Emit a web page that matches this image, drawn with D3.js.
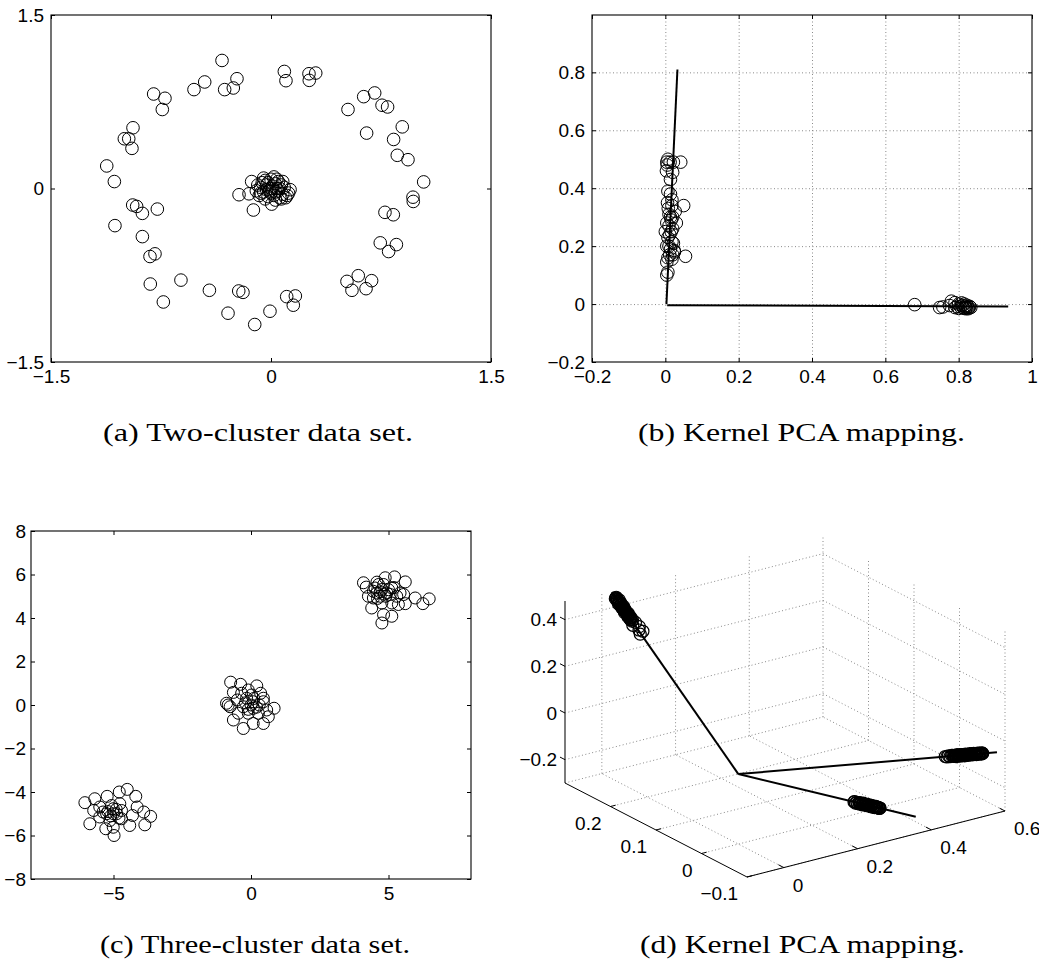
<!DOCTYPE html>
<html>
<head>
<meta charset="utf-8">
<script src="https://cdnjs.cloudflare.com/ajax/libs/d3/7.8.5/d3.min.js"></script>
<style>
  body { margin: 0; background: #fff; }
  .caption { font-family: "Liberation Serif", "DejaVu Serif", serif; font-size: 25px; }
</style>
</head>
<body>
<div id="figure"></div>
<script>
// ---- (a) two-cluster data set ----
var ringPoints = [[-0.334,1.107],[0.091,1.012],[0.102,0.932],[0.259,0.992],[0.305,0.998],[0.261,0.935],[-0.232,0.949],[-0.257,0.869],
  [-0.316,0.855],[-0.452,0.921],[-0.525,0.855],[-0.800,0.817],[-0.723,0.780],[-0.741,0.683],[0.525,0.683],[0.632,0.794],[0.707,0.826],
  [0.757,0.720],[0.795,0.705],[0.895,0.533],[0.652,0.479],[0.836,0.424],[-0.941,0.525],[-1.000,0.430],[-0.970,0.430],[-0.948,0.347],
  [-1.120,0.195],[-1.068,0.060],[0.861,0.287],[0.934,0.249],[1.041,0.057],[0.968,-0.075],[0.970,-0.112],[-0.943,-0.143],[-0.916,-0.155],
  [-0.877,-0.215],[-0.775,-0.178],[0.777,-0.206],[0.834,-0.227],[-1.064,-0.321],[-0.877,-0.416],[-0.791,-0.565],[-0.825,-0.588],
  [0.745,-0.470],[0.855,-0.485],[0.802,-0.545],[-0.614,-0.792],[-0.823,-0.826],[-0.420,-0.880],[-0.220,-0.886],[-0.191,-0.898],
  [0.518,-0.803],[0.595,-0.754],[0.686,-0.797],[0.552,-0.880],[0.648,-0.866],[-0.734,-0.981],[0.107,-0.935],[0.166,-0.929],
  [0.152,-1.009],[-0.293,-1.078],[-0.007,-1.061],[-0.111,-1.176]];
var corePoints = [[-0.132,0.06],[-0.218,-0.054],[-0.15,-0.046],[-0.12,-0.186],[0.13,-0.01],[0.005,-0.135],
  [0.0,0.0],[0.03,0.04],[-0.03,0.03],[0.05,-0.02],[-0.05,-0.03],[0.02,-0.06],[-0.02,-0.07],[0.07,0.03],[-0.07,0.01],[0.0,0.08],
  [0.04,0.08],[-0.04,0.07],[0.08,-0.05],[-0.08,-0.06],[0.06,-0.08],[0.01,0.02],[-0.01,-0.02],[0.03,-0.03],[-0.03,-0.01],[0.09,0.01],
  [0.1,-0.08],[-0.06,0.05],[0.05,0.06],[0.02,0.1],[-0.1,-0.02],[0.07,-0.09],[-0.04,-0.09],[0.11,-0.06],[0.04,0.0],[-0.02,0.05],
  [0.0,-0.04],[0.06,0.0],[-0.07,-0.04],[0.03,-0.1],[0.08,0.06],[-0.09,0.03],[0.12,-0.04],[-0.05,0.09]];
var ticksA = [-1.5, 0, 1.5];

// ---- (b) kernel PCA mapping of (a) ----
var kpcaRing = [[0.004,0.49],[0.007,0.50],[0.013,0.49],[0.022,0.49],[0.042,0.49],[0.005,0.48],[0.003,0.46],[0.02,0.455],[0.014,0.43],
  [0.007,0.39],[0.014,0.38],[0.018,0.36],[0.006,0.35],[0.018,0.34],[0.05,0.34],[0.027,0.32],[0.014,0.30],[0.004,0.28],[0.01,0.27],
  [0.02,0.26],[0.0,0.25],[0.007,0.23],[0.018,0.215],[0.004,0.2],[0.014,0.19],[0.025,0.18],[0.007,0.16],[0.018,0.155],[0.055,0.165],
  [0.004,0.145],[0.007,0.11],[0.004,0.10],[0.01,0.31],[0.016,0.29],[0.012,0.24],[0.02,0.30],[0.01,0.2],[0.022,0.21],[0.012,0.17],
  [0.02,0.17],[0.024,0.185],[0.016,0.25],[0.03,0.28],[0.008,0.33]];
var kpcaCore = [[0.68,-0.002],[0.748,-0.012],[0.757,-0.01],[0.775,-0.005],[0.78,0.01],[0.79,0.005],[0.795,-0.008],[0.80,0.0],
  [0.805,-0.01],[0.81,-0.005],[0.812,-0.012],[0.815,0.0],[0.818,-0.008],[0.82,-0.012],[0.822,-0.004],[0.825,-0.01],[0.828,-0.013],
  [0.83,-0.008],[0.80,-0.015],[0.79,-0.012],[0.808,0.004],[0.815,-0.015],[0.82,-0.016],[0.826,-0.016],[0.833,-0.012]];
var kpcaAxis1 = [[0.003,0.0],[0.033,0.81]];
var kpcaAxis2 = [[0.005,-0.004],[0.935,-0.008]];
var ticksBX = [-0.2, 0, 0.2, 0.4, 0.6, 0.8, 1];
var ticksBY = [-0.2, 0, 0.2, 0.4, 0.6, 0.8];

// ---- (c) three-cluster data set ----
var clusterLow = [[-6.04,-4.49],[-5.68,-4.31],[-5.23,-4.2],[-4.79,-4.0],[-4.50,-3.88],[-4.19,-4.2],[-4.14,-4.69],[-3.90,-4.92],
  [-3.65,-5.12],[-3.86,-5.51],[-4.41,-5.54],[-4.71,-5.23],[-4.98,-6.0],[-5.28,-5.69],[-5.86,-5.46],[-5.72,-4.85],[-5.50,-4.69],
  [-5.25,-5.0],[-5.01,-4.77],[-4.77,-4.54],[-4.89,-5.0],[-5.13,-5.31],[-5.50,-5.15],[-4.31,-5.08],[-5.01,-5.62],[-5.38,-4.92],
  [-5.07,-4.62],[-4.71,-4.85],[-5.0,-5.0],[-4.9,-4.8],[-5.1,-5.1],[-5.2,-4.9],[-4.8,-5.2]];
var clusterMid = [[-0.74,1.05],[-0.38,0.95],[0.21,0.88],[-0.64,0.58],[-0.10,0.69],[0.35,0.54],[-0.89,0.08],[-0.76,-0.08],[-0.50,0.23],
  [-0.16,0.31],[0.08,0.15],[0.45,0.15],[0.84,-0.15],[-0.64,-0.69],[-0.28,-1.08],[0.08,-0.85],[0.45,-0.85],[0.63,-0.54],[-0.46,-0.38],
  [-0.10,-0.38],[0.27,-0.38],[0.57,-0.23],[-0.28,-0.08],[0.08,-0.15],[-0.34,0.54],[0.02,0.46],[-0.83,0.0],[0.45,0.31],[0.0,0.0],
  [0.2,-0.1],[-0.2,0.1],[0.1,0.3],[-0.1,-0.2],[0.3,0.0]];
var clusterHigh = [[4.09,5.62],[4.19,5.42],[4.58,5.65],[4.88,5.85],[5.22,5.89],[5.61,5.66],[4.51,5.38],[4.76,5.31],[5.12,5.38],
  [4.27,5.0],[4.45,4.92],[4.70,5.0],[4.94,5.15],[5.42,5.15],[5.55,5.08],[4.39,4.46],[4.76,4.69],[5.12,4.69],[5.36,4.62],[5.61,4.66],
  [4.82,4.15],[5.12,4.08],[4.76,3.77],[5.97,4.92],[6.25,4.66],[6.48,4.88],[4.45,5.23],[4.64,5.54],[5.06,5.08],[5.30,5.0],[4.58,5.15],
  [4.82,5.54],[4.7,5.2],[4.9,5.0],[5.0,5.3],[4.6,4.9],[5.2,5.4],[4.85,5.1]];
var ticksCX = [-5, 0, 5];
var ticksCY = [-8, -6, -4, -2, 0, 2, 4, 6, 8];

// ---- (d) kernel PCA mapping of (c), 3-D ----
var pcaOrigin = [0, 0, 0];
var pcaAxisEnds = [[0.0, 0.278, 0.50], [0.456, -0.199, 0.110], [-0.010, -0.398, 0.222]];
var pcaCluster1 = [[0.002,0.270,0.485],[-0.003,0.268,0.483],[0.001,0.267,0.480],[0.004,0.265,0.478],[-0.002,0.264,0.475],
  [0.000,0.263,0.473],[0.003,0.261,0.470],[-0.004,0.260,0.468],[0.002,0.259,0.465],[-0.001,0.257,0.463],[0.004,0.256,0.460],
  [-0.003,0.254,0.458],[0.001,0.253,0.455],[0.003,0.252,0.453],[-0.002,0.250,0.450],[0.002,0.249,0.448],[-0.004,0.247,0.445],
  [0.001,0.246,0.443],[0.004,0.245,0.440],[-0.001,0.243,0.438],[0.002,0.242,0.435],[-0.003,0.240,0.433],[0.003,0.239,0.430],
  [0.000,0.238,0.428],[-0.002,0.236,0.425],[0.003,0.235,0.423],[0.000,0.234,0.420],[0.006,0.231,0.415],[-0.005,0.228,0.410],
  [0.008,0.224,0.403],[0.002,0.220,0.395],[0.009,0.217,0.390],[-0.002,0.214,0.385],
  [0.000,0.269,0.484],[0.001,0.268,0.481],[-0.001,0.266,0.479],[0.000,0.265,0.476],[0.001,0.263,0.474],[-0.001,0.262,0.471],
  [0.000,0.261,0.469],[0.001,0.259,0.466],[-0.001,0.258,0.464],[0.000,0.256,0.461],[0.001,0.255,0.459],[-0.001,0.254,0.456],
  [0.000,0.252,0.454],[0.001,0.251,0.451],[-0.001,0.250,0.449],[0.000,0.248,0.446],[0.001,0.247,0.444],[-0.001,0.245,0.441],
  [0.000,0.244,0.439],[0.001,0.243,0.436],[-0.001,0.241,0.434],[0.000,0.240,0.431],[0.001,0.238,0.429],[-0.001,0.237,0.426],
  [0.000,0.236,0.424]];
var pcaCluster2 = [[0.378,-0.165,0.094],[0.380,-0.166,0.089],[0.382,-0.167,0.093],[0.384,-0.168,0.089],[0.386,-0.168,0.097],
  [0.388,-0.169,0.093],[0.389,-0.170,0.096],[0.391,-0.171,0.091],[0.393,-0.172,0.098],[0.395,-0.172,0.093],[0.397,-0.173,0.097],
  [0.399,-0.174,0.092],[0.400,-0.175,0.100],[0.402,-0.176,0.095],[0.404,-0.176,0.099],[0.406,-0.177,0.095],[0.408,-0.178,0.102],
  [0.409,-0.179,0.098],[0.411,-0.179,0.101],[0.413,-0.180,0.097],[0.415,-0.181,0.103],[0.417,-0.182,0.099],[0.419,-0.183,0.102],
  [0.420,-0.183,0.098],[0.422,-0.184,0.105],[0.424,-0.185,0.101],[0.426,-0.186,0.105],[0.428,-0.187,0.101],[0.430,-0.187,0.105],
  [0.431,-0.188,0.104],[0.365,-0.159,0.088],[0.368,-0.160,0.086],[0.370,-0.162,0.092],[0.373,-0.163,0.088],[0.376,-0.164,0.093],
  [0.379,-0.166,0.092],[0.381,-0.166,0.092],[0.383,-0.167,0.092],[0.385,-0.168,0.093],[0.387,-0.169,0.093],[0.389,-0.170,0.094],
  [0.390,-0.170,0.094],[0.392,-0.171,0.095],[0.394,-0.172,0.095],[0.396,-0.173,0.095],[0.398,-0.174,0.096],[0.399,-0.174,0.096],
  [0.401,-0.175,0.097],[0.403,-0.176,0.097],[0.405,-0.177,0.098],[0.407,-0.178,0.098],[0.409,-0.178,0.099],[0.410,-0.179,0.099],
  [0.412,-0.180,0.099],[0.414,-0.181,0.100],[0.416,-0.181,0.100],[0.418,-0.182,0.101],[0.420,-0.183,0.101],[0.421,-0.184,0.102],
  [0.423,-0.185,0.102],[0.425,-0.185,0.103],[0.427,-0.186,0.103],[0.429,-0.187,0.103],[0.430,-0.188,0.104]];
var pcaCluster3 = [[-0.007,-0.271,0.154],[-0.007,-0.273,0.149],[-0.007,-0.275,0.155],[-0.007,-0.278,0.151],[-0.007,-0.280,0.160],
  [-0.007,-0.283,0.157],[-0.007,-0.285,0.161],[-0.007,-0.287,0.157],[-0.007,-0.290,0.165],[-0.007,-0.292,0.161],[-0.007,-0.295,0.165],
  [-0.007,-0.297,0.162],[-0.008,-0.299,0.170],[-0.008,-0.302,0.166],[-0.008,-0.304,0.172],[-0.008,-0.306,0.168],[-0.008,-0.309,0.176],
  [-0.008,-0.311,0.173],[-0.008,-0.314,0.177],[-0.008,-0.316,0.174],[-0.008,-0.318,0.178],[-0.006,-0.259,0.144],[-0.007,-0.261,0.148],
  [-0.007,-0.263,0.143],[-0.007,-0.266,0.150],[-0.007,-0.268,0.146],
  [-0.007,-0.272,0.152],[-0.007,-0.274,0.153],[-0.007,-0.277,0.154],[-0.007,-0.279,0.156],[-0.007,-0.281,0.157],[-0.007,-0.284,0.158],
  [-0.007,-0.286,0.160],[-0.007,-0.289,0.161],[-0.007,-0.291,0.162],[-0.007,-0.293,0.164],[-0.007,-0.296,0.165],[-0.007,-0.298,0.166],
  [-0.008,-0.300,0.168],[-0.008,-0.303,0.169],[-0.008,-0.305,0.170],[-0.008,-0.308,0.172],[-0.008,-0.310,0.173],[-0.008,-0.312,0.174],
  [-0.008,-0.315,0.176],[-0.008,-0.317,0.177]];
var ticks3X = [0, 0.2, 0.4, 0.6];
var ticks3Y = [-0.1, 0, 0.1, 0.2];
var ticks3Z = [-0.2, 0, 0.2, 0.4];

var captions = ["(a) Two-cluster data set.", "(b) Kernel PCA mapping.", "(c) Three-cluster data set.", "(d) Kernel PCA mapping."];

var svgWidth = 1039;
var svgHeight = 977;
var tickFont = "Liberation Sans, Arial, Helvetica, sans-serif";
var tickSize = 19;
var fmt = d3.format("");

var svg = d3.select("#figure")
  .append("svg")
  .attr("width", svgWidth)
  .attr("height", svgHeight)
  .style("display", "block");

svg.append("rect").attr("width", svgWidth).attr("height", svgHeight).attr("fill", "#fff");

// framed 2-D axes, MATLAB style: ticks inside on all four sides
function drawAxes(g, x, y, xTicks, yTicks, opt) {
  var x0 = x.range()[0], x1 = x.range()[1];
  var yTop = y.range()[1], yBot = y.range()[0];

  if (opt.gridX) {
    var grid = g.append("g").attr("class", "grid");
    grid.append("g")
      .attr("transform", `translate(0, ${yBot})`)
      .call(d3.axisBottom(x).tickValues(opt.gridX).tickSize(-(yBot - yTop)).tickFormat(""));
    grid.append("g")
      .attr("transform", `translate(${x0}, 0)`)
      .call(d3.axisLeft(y).tickValues(opt.gridY).tickSize(-(x1 - x0)).tickFormat(""));
    grid.selectAll(".domain").remove();
    grid.selectAll("line")
      .attr("stroke", "#8a8a8a")
      .attr("stroke-dasharray", "1,2.5");
  }

  var bottom = g.append("g")
    .attr("transform", `translate(0, ${yBot})`)
    .call(d3.axisBottom(x).tickValues(xTicks).tickSize(-4).tickPadding(opt.padX).tickFormat(fmt));
  var top = g.append("g")
    .attr("transform", `translate(0, ${yTop})`)
    .call(d3.axisTop(x).tickValues(xTicks).tickSize(-4).tickFormat(""));
  var left = g.append("g")
    .attr("transform", `translate(${x0}, 0)`)
    .call(d3.axisLeft(y).tickValues(yTicks).tickSize(-4).tickPadding(opt.padY).tickFormat(fmt));
  var right = g.append("g")
    .attr("transform", `translate(${x1}, 0)`)
    .call(d3.axisRight(y).tickValues(yTicks).tickSize(-4).tickFormat(""));

  [bottom, top, left, right].forEach(function(a) {
    a.select(".domain").remove();
    a.selectAll(".tick line").attr("stroke", "#000");
    a.attr("font-family", tickFont).attr("font-size", tickSize);
    a.selectAll("text").attr("fill", "#000");
  });

  g.append("rect")
    .attr("x", x0).attr("y", yTop)
    .attr("width", x1 - x0).attr("height", yBot - yTop)
    .attr("fill", "none")
    .attr("stroke", "#000")
    .attr("stroke-width", 1.1);
}

function drawCircles(g, pts, x, y, r) {
  g.append("g").selectAll("circle")
    .data(pts)
    .enter()
    .append("circle")
    .attr("cx", d => x(d[0]))
    .attr("cy", d => y(d[1]))
    .attr("r", r)
    .attr("fill", "none")
    .attr("stroke", "#000")
    .attr("stroke-width", 1);
}

// (a)
var gA = svg.append("g");
var xA = d3.scaleLinear().domain([-1.5, 1.5]).range([51, 491]);
var yA = d3.scaleLinear().domain([-1.5, 1.5]).range([362, 15]);
drawAxes(gA, xA, yA, ticksA, ticksA, { padX: 8, padY: 7 });
drawCircles(gA, ringPoints, xA, yA, 6.3);
drawCircles(gA, corePoints, xA, yA, 6.3);

// (b)
var gB = svg.append("g");
var xB = d3.scaleLinear().domain([-0.2, 1.0]).range([592, 1032]);
var yB = d3.scaleLinear().domain([-0.2, 0.998]).range([362, 15]);
drawAxes(gB, xB, yB, ticksBX, ticksBY, {
  padX: 8, padY: 7,
  gridX: ticksBX.slice(1, -1), gridY: ticksBY.slice(1)
});
drawCircles(gB, kpcaRing, xB, yB, 6.3);
drawCircles(gB, kpcaCore, xB, yB, 6.3);
var lineB = d3.line().x(d => xB(d[0])).y(d => yB(d[1]));
[kpcaAxis1, kpcaAxis2].forEach(function(seg) {
  gB.append("path")
    .attr("d", lineB(seg))
    .attr("fill", "none")
    .attr("stroke", "#000")
    .attr("stroke-width", 2);
});

// (c)
var gC = svg.append("g");
var xC = d3.scaleLinear().domain([-8, 8]).range([31, 471]);
var yC = d3.scaleLinear().domain([-8, 8]).range([879, 531]);
drawAxes(gC, xC, yC, ticksCX, ticksCY, { padX: 8, padY: 5 });
drawCircles(gC, clusterLow, xC, yC, 6);
drawCircles(gC, clusterMid, xC, yC, 6);
drawCircles(gC, clusterHigh, xC, yC, 6);

// (d) oblique 3-D view: each data axis maps to a screen vector
var gD = svg.append("g");
var sx3 = d3.scaleLinear().domain([-0.1, 0.6]).range([0, 1]);
var sy3 = d3.scaleLinear().domain([0.3, -0.1]).range([0, 1]);
var sz3 = d3.scaleLinear().domain([-0.3, 0.48]).range([0, 1]);
var corner = [565, 783];
var vx = [258, -66], vy = [182, 94], vz = [0, -182];
function proj(p) {
  var fx = sx3(p[0]), fy = sy3(p[1]), fz = sz3(p[2]);
  return [corner[0] + fx * vx[0] + fy * vy[0] + fz * vz[0],
          corner[1] + fx * vx[1] + fy * vy[1] + fz * vz[1]];
}
var line3 = d3.line().x(d => proj(d)[0]).y(d => proj(d)[1]);

var xMin = sx3.domain()[0], xMax = sx3.domain()[1];
var yMax = sy3.domain()[0], yMin = sy3.domain()[1];
var zMin = sz3.domain()[0], zMax = sz3.domain()[1];

var gridSegs = [];
// back wall y = yMax
ticks3X.forEach(v => gridSegs.push([[v, yMax, zMin], [v, yMax, zMax]]));
ticks3Z.forEach(v => gridSegs.push([[xMin, yMax, v], [xMax, yMax, v]]));
// back wall x = xMax
ticks3Y.forEach(v => gridSegs.push([[xMax, v, zMin], [xMax, v, zMax]]));
ticks3Z.forEach(v => gridSegs.push([[xMax, yMax, v], [xMax, yMin, v]]));
// floor z = zMin
ticks3X.forEach(v => gridSegs.push([[v, yMin, zMin], [v, yMax, zMin]]));
ticks3Y.concat([yMax]).forEach(v => gridSegs.push([[xMin, v, zMin], [xMax, v, zMin]]));

gD.append("g").selectAll("path")
  .data(gridSegs)
  .enter()
  .append("path")
  .attr("d", d => line3(d))
  .attr("fill", "none")
  .attr("stroke", "#8a8a8a")
  .attr("stroke-dasharray", "1,2.5");

// axis lines
var axisSegs = [
  [[xMin, yMax, zMin], [xMin, yMax, zMax]],
  [[xMin, yMax, zMin], [xMin, yMin, zMin]],
  [[xMin, yMin, zMin], [xMax, yMin, zMin]]
];
gD.append("g").selectAll("path")
  .data(axisSegs)
  .enter()
  .append("path")
  .attr("d", d => line3(d))
  .attr("stroke", (d, i) => i === 0 ? "#444" : "#000")
  .attr("stroke-width", (d, i) => i === 0 ? 1.4 : 1);

// ticks and labels
var tickMarks = [];
ticks3X.forEach(v => tickMarks.push([[v, yMin, zMin], [v, yMin + 0.012, zMin]]));
ticks3Y.forEach(v => tickMarks.push([[xMin, v, zMin], [xMin + 0.014, v, zMin]]));
ticks3Z.forEach(v => tickMarks.push([[xMin, yMax, v], [xMin, yMax + 0.011, v]]));
gD.append("g").selectAll("path")
  .data(tickMarks)
  .enter()
  .append("path")
  .attr("d", d => line3(d))
  .attr("stroke", "#000");

var labels3 = gD.append("g")
  .attr("font-family", tickFont)
  .attr("font-size", tickSize)
  .attr("fill", "#000");
labels3.selectAll(".lx")
  .data(ticks3X)
  .enter()
  .append("text")
  .attr("x", d => proj([d, yMin, zMin])[0] + 9)
  .attr("y", d => proj([d, yMin, zMin])[1] + 24)
  .text(fmt);
labels3.selectAll(".ly")
  .data(ticks3Y)
  .enter()
  .append("text")
  .attr("text-anchor", "end")
  .attr("x", d => proj([xMin, d, zMin])[0] - 9)
  .attr("y", d => proj([xMin, d, zMin])[1] + 23)
  .text(fmt);
labels3.selectAll(".lz")
  .data(ticks3Z)
  .enter()
  .append("text")
  .attr("text-anchor", "end")
  .attr("x", d => proj([xMin, yMax, d])[0] - 8)
  .attr("y", d => proj([xMin, yMax, d])[1])
  .attr("dy", "0.35em")
  .text(fmt);

// mapping axes and the mapped clusters
pcaAxisEnds.forEach(function(end) {
  gD.append("path")
    .attr("d", line3([pcaOrigin, end]))
    .attr("fill", "none")
    .attr("stroke", "#000")
    .attr("stroke-width", 2);
});
[pcaCluster1, pcaCluster2, pcaCluster3].forEach(function(pts) {
  gD.append("g").selectAll("circle")
    .data(pts)
    .enter()
    .append("circle")
    .attr("cx", d => proj(d)[0])
    .attr("cy", d => proj(d)[1])
    .attr("r", 6)
    .attr("fill", "none")
    .attr("stroke", "#000")
    .attr("stroke-width", 1.2);
});

// sub-figure captions
var capPos = [[103, 441, 310], [638, 441, 327], [100, 953, 310], [640, 953, 325]];
svg.append("g").selectAll("text")
  .data(captions)
  .enter()
  .append("text")
  .attr("class", "caption")
  .attr("x", (d, i) => capPos[i][0])
  .attr("y", (d, i) => capPos[i][1])
  .attr("textLength", (d, i) => capPos[i][2])
  .attr("lengthAdjust", "spacingAndGlyphs")
  .attr("fill", "#000")
  .text(d => d);
</script>
</body>
</html>
